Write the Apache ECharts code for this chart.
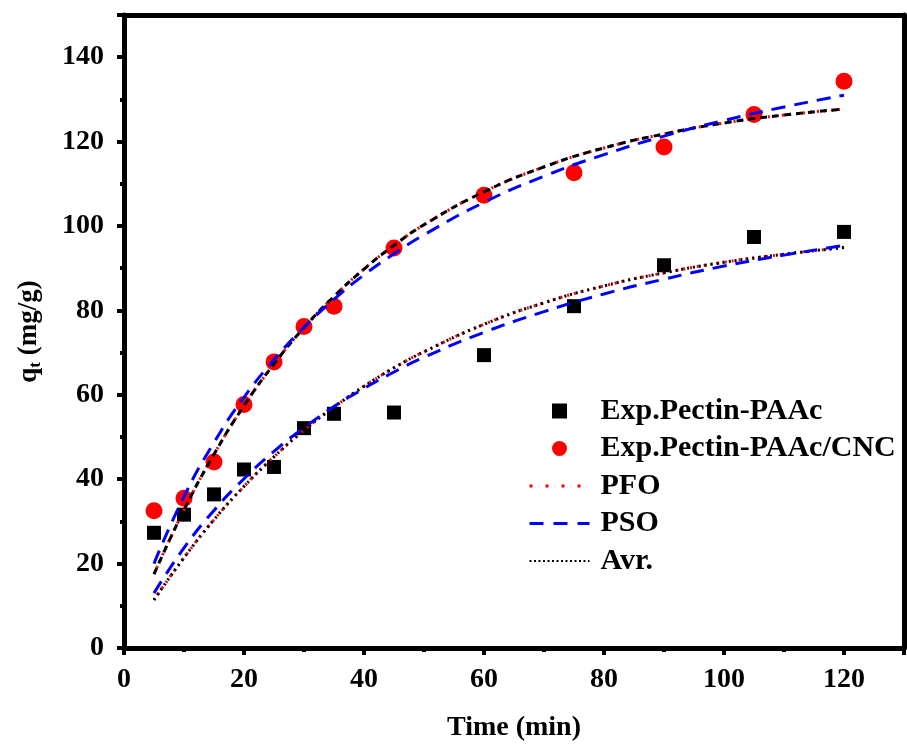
<!DOCTYPE html>
<html>
<head>
<meta charset="utf-8">
<script src="https://cdn.jsdelivr.net/npm/echarts@6/dist/echarts.min.js"></script>
<style>
  html, body { margin: 0; padding: 0; background: #fff; }
  #chart { width: 907px; height: 751px; }
</style>
</head>
<body>
<div id="chart"></div>
<script>
// experimental points
const expTime = [5, 10, 15, 20, 25, 30, 35, 45, 60, 75, 90, 105, 120]
const expPAAc = [27.3, 31.6, 36.4, 42.3, 42.9, 52.1, 55.5, 55.8, 69.4, 81.0, 90.7, 97.4, 98.6]
const expCNC = [32.5, 35.5, 44.1, 57.7, 67.8, 76.2, 81.0, 94.8, 107.3, 112.6, 118.7, 126.4, 134.3]

// fitted curves
const fitTime = [5, 10, 15, 20, 25, 30, 35, 40, 45, 50, 60, 70, 80, 90, 100, 110, 120]
const pfoPAAc = [11.4, 21.4, 30.4, 38.3, 45.3, 51.6, 57.1, 62.0, 66.4, 70.2, 76.7, 81.8, 85.8, 88.9, 91.4, 93.3, 94.9]
const psoPAAc = [13.0, 23.7, 32.6, 40.1, 46.6, 52.2, 57.2, 61.5, 65.4, 68.9, 74.8, 79.7, 83.9, 87.4, 90.5, 93.1, 95.4]
const pfoCNC = [17.5, 32.7, 45.9, 57.4, 67.3, 75.9, 83.3, 89.8, 95.4, 100.3, 108.1, 114.0, 118.5, 121.8, 124.4, 126.3, 127.7]
const psoCNC = [20.0, 35.9, 48.7, 59.4, 68.3, 76.0, 82.6, 88.4, 93.4, 97.9, 105.6, 111.8, 116.9, 121.3, 125.0, 128.2, 131.0]

const zip = (xs, ys) => xs.map((x, i) => [x, ys[i]])
const font = 'Liberation Serif'

const lineSeries = (name, data, color, type, z) => ({
  name,
  type: 'line',
  data,
  showSymbol: false,
  symbol: 'none',
  smooth: true,
  z,
  itemStyle: { color },
  lineStyle: { color, width: 3, type }
})

// legend: hide the symbol of line entries, keep the dashed line
const lineEntry = (name, color, width, type) => ({
  name,
  itemStyle: { opacity: 0 },
  lineStyle: { color, width, type }
})

const chart = echarts.init(document.getElementById('chart'))
chart.setOption({
  animation: false,
  textStyle: { fontFamily: font, fontWeight: 'bold', color: '#000' },
  grid: { left: 124, right: -5, top: 15, bottom: 103 },
  legend: {
    orient: 'vertical',
    left: 523,
    top: 391,
    itemWidth: 60,
    itemHeight: 15,
    itemGap: 7.5,
    textStyle: { fontFamily: font, fontWeight: 'bold', fontSize: 30, color: '#000', padding: [0, 0, 0, 6] },
    data: [
      { name: 'Exp.Pectin-PAAc', icon: 'path://M0,0h10v10h-10z' },
      { name: 'Exp.Pectin-PAAc/CNC', icon: 'circle' },
      lineEntry('PFO', '#ff0000', 3, [3, 13]),
      lineEntry('PSO', '#0000ff', 3, [14, 10]),
      lineEntry('Avr.', '#000', 2, [2, 2.5])
    ]
  },
  xAxis: [{
    type: 'value',
    min: 0,
    max: 130,
    interval: 20,
    name: 'Time (min)',
    nameLocation: 'middle',
    nameGap: 66,
    nameTextStyle: { fontFamily: font, fontWeight: 'bold', fontSize: 28, color: '#000' },
    axisLine: { onZero: false, lineStyle: { color: '#000', width: 5 } },
    axisTick: { inside: false, length: 7, lineStyle: { width: 4, color: '#000' } },
    minorTick: { show: true, splitNumber: 2, length: 4, lineStyle: { width: 4, color: '#000' } },
    axisLabel: {
      margin: 18,
      fontFamily: font, fontWeight: 'bold', fontSize: 28, color: '#000',
      formatter: v => (v > 120 ? '' : v)
    },
    splitLine: { show: false }
  }, {
    type: 'value',
    position: 'top',
    min: 0,
    max: 130,
    axisLine: { onZero: false, lineStyle: { color: '#000', width: 5 } },
    axisTick: { show: false },
    axisLabel: { show: false },
    splitLine: { show: false }
  }],
  yAxis: [{
    type: 'value',
    min: 0,
    max: 150,
    interval: 20,
    name: '{a|q}{s|t}{a| (mg/g)}',
    nameLocation: 'middle',
    nameGap: 80,
    nameTextStyle: {
      rich: {
        a: { fontFamily: font, fontWeight: 'bold', fontSize: 27, color: '#000' },
        s: { fontFamily: font, fontWeight: 'bold', fontSize: 17, color: '#000', verticalAlign: 'bottom', padding: [12, 0, 0, 0] }
      }
    },
    axisLine: { onZero: false, lineStyle: { color: '#000', width: 5 } },
    axisTick: { inside: false, length: 7, lineStyle: { width: 4, color: '#000' } },
    minorTick: { show: true, splitNumber: 2, length: 4, lineStyle: { width: 4, color: '#000' } },
    axisLabel: {
      margin: 20,
      fontFamily: font, fontWeight: 'bold', fontSize: 28, color: '#000',
      formatter: v => (v > 140 ? '' : v)
    },
    splitLine: { show: false }
  }, {
    type: 'value',
    position: 'right',
    min: 0,
    max: 150,
    axisLine: { show: true, onZero: false, lineStyle: { color: '#000', width: 5 } },
    axisTick: { show: false },
    axisLabel: { show: false },
    splitLine: { show: false }
  }],
  series: [
    {
      name: 'Exp.Pectin-PAAc',
      type: 'scatter',
      symbol: 'rect',
      symbolSize: 14,
      itemStyle: { color: '#000', opacity: 1 },
      data: zip(expTime, expPAAc),
      z: 2
    },
    {
      name: 'Exp.Pectin-PAAc/CNC',
      type: 'scatter',
      symbol: 'circle',
      symbolSize: 17,
      itemStyle: { color: '#ff0000', opacity: 1 },
      data: zip(expTime, expCNC),
      z: 2
    },
    lineSeries('PFO', zip(fitTime, pfoPAAc), '#ff0000', [2, 5], 3),
    lineSeries('PFO', zip(fitTime, pfoCNC), '#ff0000', [2, 5], 3),
    lineSeries('Avr.', zip(fitTime, pfoPAAc), '#000', [2, 4], 4),
    lineSeries('Avr.', zip(fitTime, pfoCNC), '#000', [7, 5], 4),
    lineSeries('PSO', zip(fitTime, psoPAAc), '#0000ff', [14, 9], 5),
    lineSeries('PSO', zip(fitTime, psoCNC), '#0000ff', [14, 9], 5)
  ]
})
</script>
</body>
</html>
